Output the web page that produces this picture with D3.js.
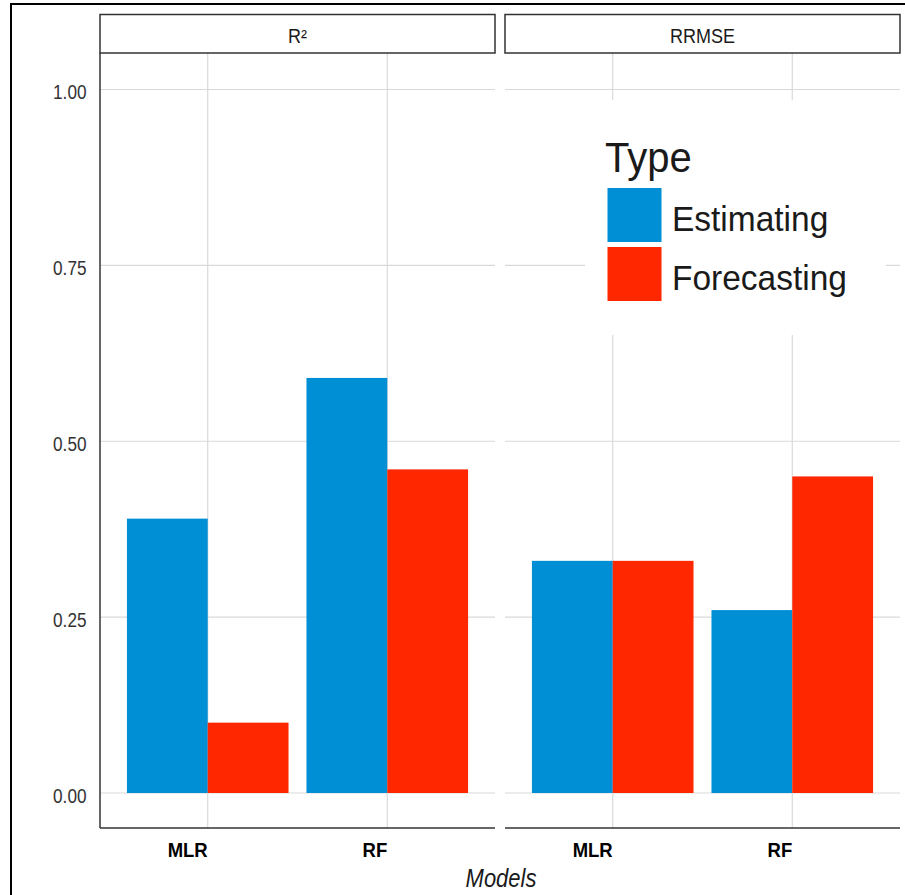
<!DOCTYPE html>
<html>
<head>
<meta charset="utf-8">
<script src="https://cdn.jsdelivr.net/npm/d3@7"></script>
<style>
  body { margin: 0; background: #fff; }
  svg text { font-family: "Liberation Sans", Arial, sans-serif; }
</style>
</head>
<body>
<div id="app"></div>
<script>
// data
var metrics = ["R\u00B2", "RRMSE"];
var models = ["MLR", "RF"];
var types = ["Estimating", "Forecasting"];
var colors = ["#008FD5", "#FF2700"];
var r2Values = [[0.39, 0.10], [0.59, 0.46]];      // [model][type]
var rrmseValues = [[0.33, 0.33], [0.26, 0.45]];
var yTicks = [0, 0.25, 0.5, 0.75, 1];

var W = 905, H = 895;
var panelTop = 53, panelBottom = 828;
var stripTop = 14.5;
var panelXs = [[100, 495], [505, 900]];
var gridColor = "#d9d9d9";

var svg = d3.select("#app").append("svg")
    .attr("width", W)
    .attr("height", H);

svg.append("rect")
    .attr("width", W).attr("height", H)
    .style("fill", "#fff");

// outer frame
svg.append("rect")
    .attr("x", 11)
    .attr("y", 4)
    .attr("width", W + 20)
    .attr("height", H + 20)
    .style("fill", "none")
    .style("stroke", "#000")
    .style("stroke-width", 2);

// text slightly taller than wide, like the reference
var addText = function (parent, x, y, sy, str) {
    return parent.append("text")
        .attr("transform", "translate(" + x + "," + y + ") scale(1," + sy + ")")
        .text(str);
};

var y = d3.scaleLinear()
    .domain([0, 1])
    .range([793, 89.5]);

var allValues = [r2Values, rrmseValues];

panelXs.forEach(function (px, p) {
    var x = d3.scaleLinear().domain([0.4, 2.6]).range(px);
    var g = svg.append("g");

    // GRID
    g.selectAll(".hgrid")
        .data(yTicks)
        .enter()
        .append("line")
        .attr("x1", px[0]).attr("x2", px[1])
        .attr("y1", function (d) { return y(d); })
        .attr("y2", function (d) { return y(d); })
        .style("stroke", gridColor)
        .style("stroke-width", 1.2);
    g.selectAll(".vgrid")
        .data(models)
        .enter()
        .append("line")
        .attr("x1", function (d, i) { return x(i + 1); })
        .attr("x2", function (d, i) { return x(i + 1); })
        .attr("y1", panelTop).attr("y2", panelBottom)
        .style("stroke", gridColor)
        .style("stroke-width", 1.2);

    // BARS
    var barData = [];
    models.forEach(function (m, i) {
        types.forEach(function (t, j) {
            barData.push({ model: i, type: j, value: allValues[p][i][j] });
        });
    });
    g.selectAll(".bar")
        .data(barData)
        .enter()
        .append("rect")
        .attr("x", function (d) { return x(d.model + 1 - 0.45 + d.type * 0.45); })
        .attr("width", function () { return x(1.45) - x(1); })
        .attr("y", function (d) { return y(d.value); })
        .attr("height", function (d) { return y(0) - y(d.value); })
        .style("fill", function (d) { return colors[d.type]; });

    // STRIP
    svg.append("rect")
        .attr("x", px[0])
        .attr("y", stripTop)
        .attr("width", px[1] - px[0])
        .attr("height", panelTop - stripTop)
        .style("fill", "#fff")
        .style("stroke", "#333")
        .style("stroke-width", 1.5);
    addText(svg, (px[0] + px[1]) / 2, 43, 1.08, metrics[p])
        .attr("text-anchor", "middle")
        .style("font-size", "18px")
        .style("fill", "#1a1a1a");

    // X AXIS
    svg.append("line")
        .attr("x1", px[0]).attr("x2", px[1])
        .attr("y1", panelBottom).attr("y2", panelBottom)
        .style("stroke", "#333")
        .style("stroke-width", 1.5);
    models.forEach(function (m, i) {
        addText(svg, x(i + 1), 856.5, 1.1, m)
            .attr("text-anchor", "end")
            .style("font-size", "18.5px")
            .style("font-weight", "bold")
            .style("fill", "#000");
    });
});

// Y AXIS
svg.append("line")
    .attr("x1", 100).attr("x2", 100)
    .attr("y1", panelTop).attr("y2", panelBottom)
    .style("stroke", "#333")
    .style("stroke-width", 1.5);
yTicks.forEach(function (t) {
    addText(svg, 86.5, y(t) + 9.5, 1.15, d3.format(".2f")(t))
        .attr("text-anchor", "end")
        .style("font-size", "17.2px")
        .style("fill", "#333");
});

// AXIS TITLE
addText(svg, 501, 886.5, 1.14, "Models")
    .attr("text-anchor", "middle")
    .style("font-size", "22px")
    .style("font-style", "italic")
    .style("fill", "#1a1a1a");

// LEGEND
var legend = svg.append("g");
legend.append("rect")
    .attr("x", 585).attr("y", 100)
    .attr("width", 301).attr("height", 235)
    .style("fill", "#fff");
addText(legend, 605, 172, 1.05, "Type")
    .style("font-size", "40px")
    .style("fill", "#1a1a1a");
legend.selectAll(".key")
    .data(types)
    .enter()
    .append("rect")
    .attr("x", 607.5)
    .attr("y", function (d, i) { return 188 + i * 59; })
    .attr("width", 54)
    .attr("height", 54)
    .style("fill", function (d, i) { return colors[i]; });
types.forEach(function (t, i) {
    addText(legend, 672, 231 + i * 59, 1.05, t)
        .style("font-size", "33.5px")
        .style("fill", "#1a1a1a");
});
</script>
</body>
</html>
